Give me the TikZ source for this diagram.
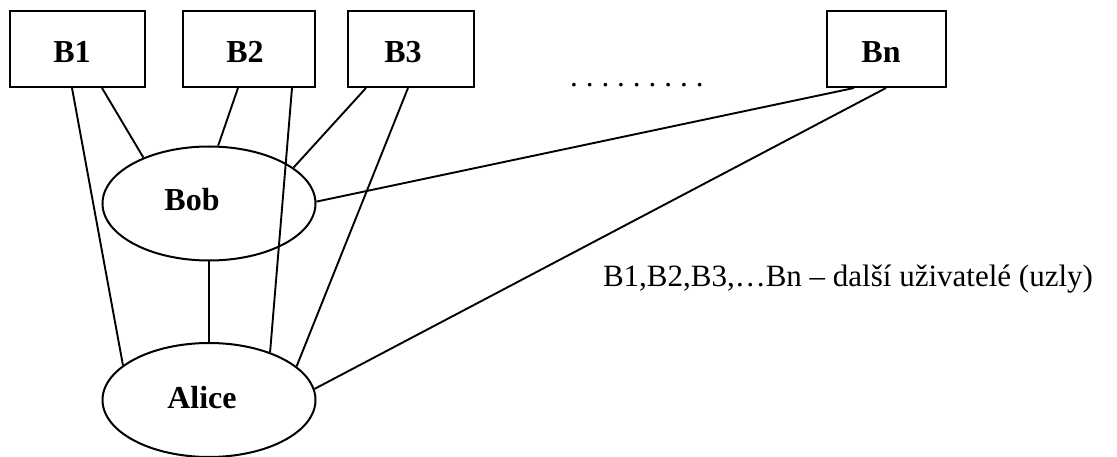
\documentclass[tikz,border=0pt]{standalone}
\usepackage{fontspec}
\setmainfont{Liberation Serif}
\usetikzlibrary{shapes.geometric}
\begin{document}
\begin{tikzpicture}[x=1pt,y=-1pt,line width=2pt,
  userbox/.style={draw,rectangle,inner sep=0pt,minimum height=76pt},
  peer/.style={draw,ellipse,inner sep=0pt,minimum width=213pt,minimum height=114pt},
  tag/.style={inner sep=0pt,font=\fontsize{32}{34}\selectfont\bfseries},
  link/.style={line width=1.9pt}]
\useasboundingbox (0,0) rectangle (1117,457);

% user boxes
\node[userbox,minimum width=135pt] (B1) at (77.5,49) {};
\node[userbox,minimum width=132pt] (B2) at (249,49) {};
\node[userbox,minimum width=126pt] (B3) at (411,49) {};
\node[userbox,minimum width=119pt] (Bn) at (886.5,49) {};
\node[tag] (tB1) at (72,52) {B1};
\node[tag] (tB2) at (245,52) {B2};
\node[tag] (tB3) at (403,52) {B3};
\node[tag] (tBn) at (881,52) {Bn};

% the two main peers
\node[peer] (Bob) at (209,203.5) {};
\node[peer] (Alice) at (209,400) {};
\node[tag] (tBob) at (192,200) {Bob};
\node[tag] (tAlice) at (202,398) {Alice};

% ellipsis between B3 and Bn
\node[inner sep=0pt,anchor=base west,font=\fontsize{31}{33}\selectfont] (dots) at (569,87)
  {.\hskip8pt.\hskip8pt.\hskip8pt.\hskip8pt.\hskip8pt.\hskip8pt.\hskip8pt.\hskip8pt.};

% legend
\node[inner sep=0pt,anchor=base west,font=\fontsize{31}{33}\selectfont] (legend) at (602,287)
  {B1,B2,B3,…Bn – další uživatelé (uzly)};

% connections
\draw[link] ([xshift=63pt]B1.south west) -- (Alice.158);
\draw[link] ([xshift=93pt]B1.south west) -- (Bob.145);
\draw[link] ([xshift=56pt]B2.south west) -- (Bob.81);
\draw[link] ([xshift=110pt]B2.south west) -- (Alice.38);
\draw[link] ([xshift=19pt]B3.south west) -- (Bob.23);
\draw[link] ([xshift=61pt]B3.south west) -- (Alice.21);
\draw[link] ([xshift=28pt]Bn.south west) -- (Bob.1);
\draw[link] ([xshift=60pt]Bn.south west) -- (Alice.6);
\draw[link] (Bob.south) -- (Alice.north);
\end{tikzpicture}
\end{document}
